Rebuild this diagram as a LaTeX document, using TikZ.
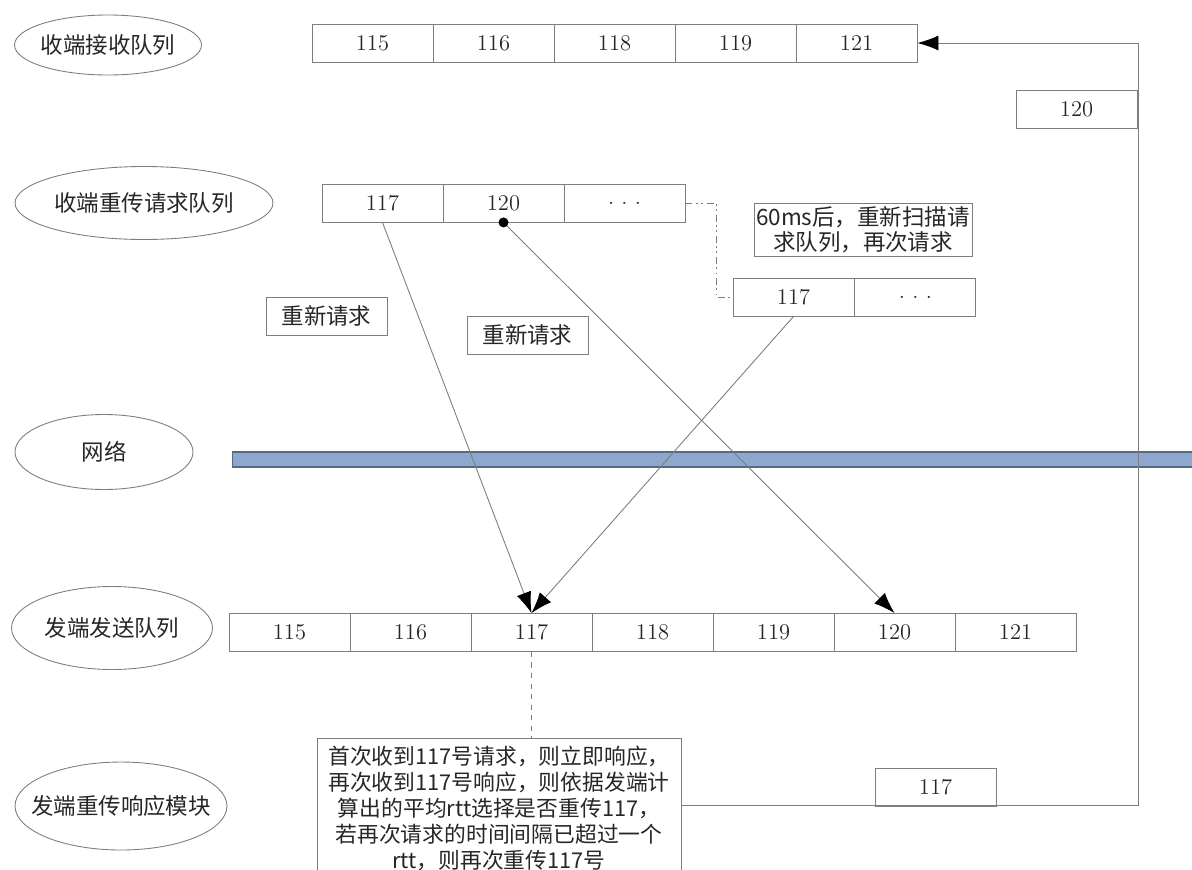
\documentclass[tikz,border=0pt]{standalone}
\usepackage{fontspec}
\newfontfamily\zhfont{Noto Sans CJK SC}
\usepackage{tikz}
\usetikzlibrary{shapes.geometric,arrows.meta,positioning}
\definecolor{linegray}{RGB}{125,125,125}
\definecolor{netblue}{RGB}{141,168,204}
\definecolor{netedge}{RGB}{85,105,130}

\begin{document}
\begin{tikzpicture}[x=0.02cm,y=-0.02cm,
    every node/.style={text=black!85},
    every label/.style={text=black!85, font=\zhfont\fontsize{12.8}{15}\selectfont},
    stage/.style={draw=linegray, ellipse, inner sep=0pt, line width=0.5pt},
    cell/.style={draw=linegray, line width=0.5pt, minimum width=2.42cm, minimum height=0.76cm,
                 inner sep=0pt, font=\fontsize{12.8}{15}\selectfont},
    tagbox/.style={draw=linegray, line width=0.5pt, inner sep=0pt, align=center,
                   font=\zhfont\fontsize{12.8}{15}\selectfont},
    link/.style={draw=linegray, line width=0.5pt, -{Latex[length=4.2mm,width=3mm,color=black]}}]
    \useasboundingbox (0,0) rectangle (1192,869);

    % row titles
    \node[stage, minimum width=3.74cm, minimum height=1.2cm, label=center:收端接收队列] (rcvtitle) at (108,45) {};
    \node[stage, minimum width=5.16cm, minimum height=1.46cm, label=center:收端重传请求队列] (reqtitle) at (144,203) {};
    \node[stage, minimum width=3.56cm, minimum height=1.5cm, label=center:网络] (nettitle) at (104,452) {};
    \node[stage, minimum width=4.02cm, minimum height=1.66cm, label=center:发端发送队列] (sndtitle) at (112,628) {};
    \node[stage, minimum width=4.24cm, minimum height=1.76cm, label=center:发端重传响应模块] (resptitle) at (121,806) {};

    % queues
    \foreach \v [count=\i] in {115,116,118,119,121}
        \node[cell] (rcv\i) at ({251.5+121*\i},43) {\v};
    \foreach \v [count=\i] in {117,120,.\ .\ .}
        \node[cell] (req\i) at ({261.5+121*\i},203) {\v};
    \foreach \v [count=\i] in {115,116,117,118,119,120,121}
        \node[cell] (snd\i) at ({168.5+121*\i},632.5) {\v};
    \node[cell] (again1) at (793.5,297) {117};
    \node[cell, right=0pt of again1] (again2) {.\ .\ .};

    \node[cell] (late120) at (1076.5,109.5) {120};
    \node[cell] (resend117) at (935.5,787) {117};

    \node[tagbox, minimum width=2.42cm, minimum height=0.76cm] (ask1) at (326.5,316) {重新请求};
    \node[tagbox, minimum width=2.42cm, minimum height=0.76cm] (ask2) at (527.5,335) {重新请求};
    \node[tagbox, minimum width=4.36cm, minimum height=1.06cm,
          font=\zhfont\fontsize{12.8}{14.5}\selectfont] (scan) at (863,229.5)
          {60ms后，重新扫描请\\求队列，再次请求};
    \node[tagbox, anchor=north, minimum width=7.28cm, minimum height=2.8cm,
          font=\zhfont\fontsize{12.4}{14.7}\selectfont] (note) at (499,738)
          {首次收到117号请求，则立即响应，\\再次收到117号响应，则依据发端计\\算出的平均rtt选择是否重传117，\\若再次请求的时间间隔已超过一个\\rtt，则再次重传117号};

    % network
    \node[fill=netblue, draw=netedge, line width=0.6pt, minimum width=19.4cm, minimum height=0.3cm,
          inner sep=0pt] (net) at (717,459.5) {};

    % connectors
    \coordinate (turn) at (1138,805);
    \coordinate (bend) at (716,297);
    \draw[link] (note.east |- turn) -- (turn) |- (rcv5.east);
    \draw[linegray, line width=0.5pt, dash pattern=on 4pt off 2pt on 1pt off 2pt on 1pt off 2pt]
        (req3.east) -| (bend) -- (again1.west);
    \draw[link] (req1.south) -- (snd3.north);
    \draw[link] (req2.south) -- (snd6.north);
    \draw[link] (again1.south) -- (snd3.north);
    \fill[black] (req2.south) circle (0.1cm);
    \draw[linegray, line width=0.5pt, dashed] (snd3.south) -- (snd3.south |- note.north);
\end{tikzpicture}
\end{document}
